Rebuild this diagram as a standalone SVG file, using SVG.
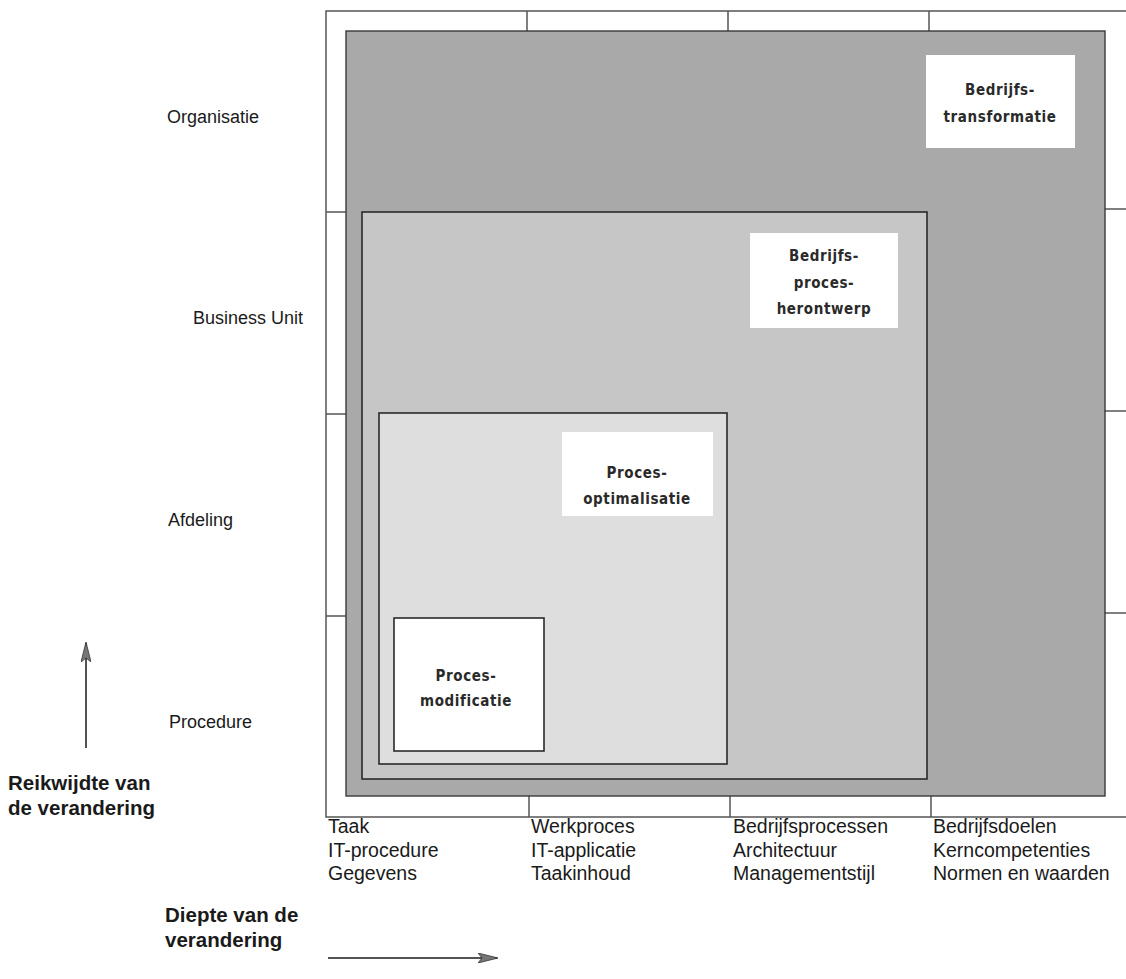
<svg xmlns="http://www.w3.org/2000/svg" width="1126" height="979" viewBox="0 0 1126 979">
  <style>
    .frame { fill: none; stroke: #555; stroke-width: 1.5; }
    .tick { stroke: #555; stroke-width: 1.5; }
    .lvl { stroke: #2a2a2a; stroke-width: 1.6; }
    .tag { fill: #ffffff; stroke: none; }
    .tagtxt { font-family: "DejaVu Sans Condensed", "DejaVu Sans", sans-serif; font-weight: bold; font-size: 15px; fill: #2a2a2a; text-anchor: middle; letter-spacing: 0.6px; }
    .lbl { font-family: "Liberation Sans", Arial, sans-serif; font-size: 18px; fill: #1a1a1a; }
    .col { font-size: 19.5px; }
    .axis { font-family: "Liberation Sans", Arial, sans-serif; font-size: 20.5px; font-weight: bold; fill: #1a1a1a; }
    .arrow { stroke: #1a1a1a; stroke-width: 1.5; fill: none; }
  </style>
  <defs>
    <marker id="head" viewBox="0 0 20 10" refX="19" refY="5" markerWidth="20" markerHeight="10" markerUnits="userSpaceOnUse" orient="auto">
      <path d="M0,0 L20,5 L0,10 L4,5 Z" fill="#777" stroke="#333" stroke-width="0.8"/>
    </marker>
  </defs>

  <rect width="1126" height="979" fill="#ffffff"/>

  <!-- grid frame with row and column ticks -->
  <g id="grid">
    <rect class="frame" x="326" y="11" width="820" height="806"/>
    <line class="tick" x1="326" y1="212" x2="346" y2="212"/>
    <line class="tick" x1="326" y1="414" x2="346" y2="414"/>
    <line class="tick" x1="326" y1="616" x2="346" y2="616"/>
    <line class="tick" x1="1105" y1="209" x2="1126" y2="209"/>
    <line class="tick" x1="1105" y1="411" x2="1126" y2="411"/>
    <line class="tick" x1="1105" y1="613" x2="1126" y2="613"/>
    <line class="tick" x1="527" y1="11" x2="527" y2="31"/>
    <line class="tick" x1="728" y1="11" x2="728" y2="31"/>
    <line class="tick" x1="929" y1="11" x2="929" y2="31"/>
    <line class="tick" x1="529" y1="796" x2="529" y2="817"/>
    <line class="tick" x1="730" y1="796" x2="730" y2="817"/>
    <line class="tick" x1="931" y1="796" x2="931" y2="817"/>
  </g>

  <!-- nested change levels -->
  <g id="bedrijfstransformatie">
    <rect x="346" y="31" width="759" height="765" fill="#a9a9a9" stroke="#3a3a3a" stroke-width="1.4"/>
    <rect class="tag" x="926" y="55" width="149" height="93"/>
    <text class="tagtxt" x="1000" y="95">Bedrijfs-</text>
    <text class="tagtxt" x="1000" y="122">transformatie</text>
  </g>

  <g id="bedrijfsprocesherontwerp">
    <rect class="lvl" x="362" y="212" width="565" height="567" fill="#c6c6c6"/>
    <rect class="tag" x="750" y="233" width="148" height="95"/>
    <text class="tagtxt" x="824" y="261">Bedrijfs-</text>
    <text class="tagtxt" x="824" y="288">proces-</text>
    <text class="tagtxt" x="824" y="314">herontwerp</text>
  </g>

  <g id="procesoptimalisatie">
    <rect class="lvl" x="379" y="413" width="348" height="351" fill="#dedede"/>
    <rect class="tag" x="562" y="432" width="151" height="84"/>
    <text class="tagtxt" x="637" y="478">Proces-</text>
    <text class="tagtxt" x="637" y="504">optimalisatie</text>
  </g>

  <g id="procesmodificatie">
    <rect class="lvl" x="394" y="618" width="150" height="133" fill="#ffffff"/>
    <text class="tagtxt" x="466" y="681">Proces-</text>
    <text class="tagtxt" x="466" y="706">modificatie</text>
  </g>

  <!-- row labels: scope of change -->
  <g id="rows">
    <text class="lbl" x="167" y="123">Organisatie</text>
    <text class="lbl" x="193" y="324">Business Unit</text>
    <text class="lbl" x="168" y="526">Afdeling</text>
    <text class="lbl" x="169" y="728">Procedure</text>
  </g>

  <!-- column labels: depth of change -->
  <g id="columns">
    <text class="lbl col" x="328" y="833">Taak</text>
    <text class="lbl col" x="328" y="857">IT-procedure</text>
    <text class="lbl col" x="328" y="880">Gegevens</text>
    <text class="lbl col" x="531" y="833">Werkproces</text>
    <text class="lbl col" x="531" y="857">IT-applicatie</text>
    <text class="lbl col" x="531" y="880">Taakinhoud</text>
    <text class="lbl col" x="733" y="833">Bedrijfsprocessen</text>
    <text class="lbl col" x="733" y="857">Architectuur</text>
    <text class="lbl col" x="733" y="880">Managementstijl</text>
    <text class="lbl col" x="933" y="833">Bedrijfsdoelen</text>
    <text class="lbl col" x="933" y="857">Kerncompetenties</text>
    <text class="lbl col" x="933" y="880">Normen en waarden</text>
  </g>

  <!-- axis arrows -->
  <g id="connectors">
    <line class="arrow" x1="86" y1="748" x2="86" y2="643" marker-end="url(#head)"/>
    <line class="arrow" x1="328" y1="958" x2="497" y2="958" marker-end="url(#head)"/>
  </g>

  <g id="axis-labels">
    <text class="axis" x="8" y="790">Reikwijdte van</text>
    <text class="axis" x="8" y="815">de verandering</text>
    <text class="axis" x="165" y="922">Diepte van de</text>
    <text class="axis" x="165" y="947">verandering</text>
  </g>
</svg>
